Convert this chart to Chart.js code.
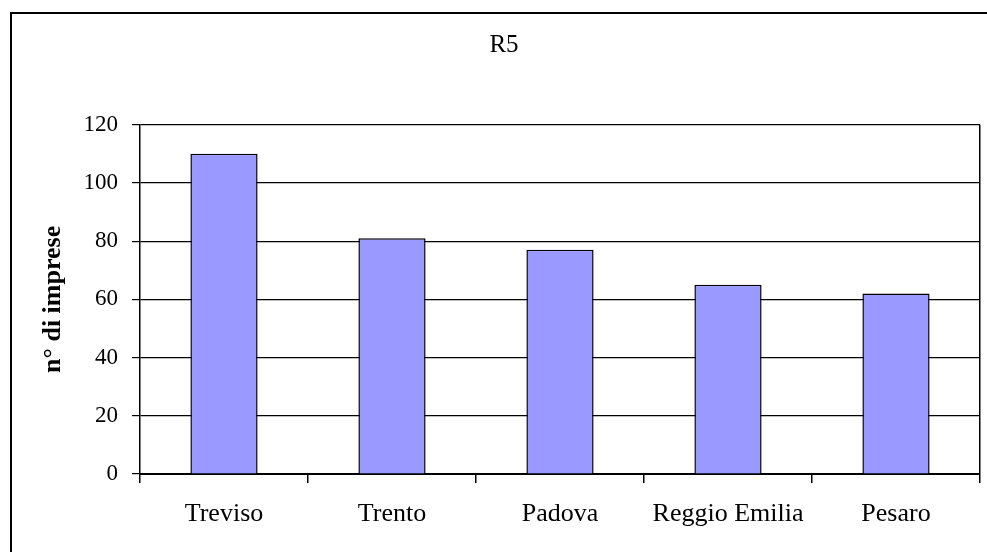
<!DOCTYPE html>
<html>
<head>
<meta charset="utf-8">
<script src="https://cdn.jsdelivr.net/npm/chart.js@4.4.1/dist/chart.umd.min.js"></script>
<style>
  html, body { margin: 0; padding: 0; background: #fff; }
  #wrap { width: 987px; height: 552px; position: relative; }
</style>
</head>
<body>
<div id="wrap"><canvas id="chart"></canvas></div>
<script>
// data
const cities = ['Treviso', 'Trento', 'Padova', 'Reggio Emilia', 'Pesaro'];
const imprese = [110, 81, 77, 65, 62];
const yTicks = [0, 20, 40, 60, 80, 100, 120];

const serif = "'Liberation Serif', 'Times New Roman', serif";

// white page plus the outer frame (left and top edges only visible)
const framePlugin = {
    id: 'frame',
    beforeDraw(chart) {
        const ctx = chart.ctx;
        ctx.save();
        ctx.fillStyle = '#fff';
        ctx.fillRect(0, 0, chart.width, chart.height);
        ctx.strokeStyle = '#000';
        ctx.lineWidth = 2;
        ctx.beginPath();
        ctx.moveTo(11, chart.height + 5);
        ctx.lineTo(11, 13);
        ctx.lineTo(chart.width + 5, 13);
        ctx.stroke();
        ctx.restore();
    }
};

const ctx = document.getElementById('chart').getContext('2d');
new Chart(ctx, {
    type: 'bar',
    data: {
        labels: cities,
        datasets: [{
            label: 'R5',
            data: imprese,
            backgroundColor: '#9999FF',
            borderColor: '#000',
            borderWidth: 1.5,
            barPercentage: 0.4,
            categoryPercentage: 1.0
        }]
    },
    options: {
        responsive: true,
        maintainAspectRatio: false,
        animation: false,
        layout: { padding: { left: 28, right: 7, top: 12, bottom: 0 } },
        plugins: {
            legend: { display: false },
            tooltip: { enabled: false },
            title: {
                display: true,
                text: 'R5',
                color: '#000',
                font: { family: serif, size: 25, weight: 'normal', lineHeight: 1.2 },
                padding: { top: 18, bottom: 64.7 }
            }
        },
        scales: {
            x: {
                grid: {
                    display: true,
                    drawOnChartArea: true,
                    offset: true,
                    // only the closing line on the right edge of the plot is drawn across the area
                    color: (c) => c.type === 'scale' ? '#000' : 'rgba(0,0,0,0)',
                    tickColor: '#000',
                    tickLength: 9,
                    lineWidth: 1.5
                },
                border: { display: true, color: '#000', width: 2 },
                ticks: {
                    color: '#000',
                    font: { family: serif, size: 26, lineHeight: 1.2 },
                    padding: 16,
                    maxRotation: 0,
                    autoSkip: false
                },
                afterFit(scale) { scale.height = 78; }
            },
            y: {
                min: 0,
                max: 120,
                afterBuildTicks(scale) { scale.ticks = yTicks.map(v => ({ value: v })); },
                grid: {
                    color: '#000',
                    lineWidth: 1.2,
                    tickLength: 8,
                    tickColor: '#000'
                },
                border: { display: true, color: '#000', width: 1.5 },
                ticks: {
                    color: '#000',
                    font: { family: serif, size: 23, lineHeight: 1.2 },
                    padding: 14
                },
                title: {
                    display: true,
                    text: 'n° di imprese',
                    color: '#000',
                    font: { family: serif, size: 26, weight: 'bold', lineHeight: 1.2 },
                    padding: { top: 10, bottom: 0 }
                },
                afterFit(scale) { scale.width = 112; }
            }
        }
    },
    plugins: [framePlugin]
});
</script>
</body>
</html>
